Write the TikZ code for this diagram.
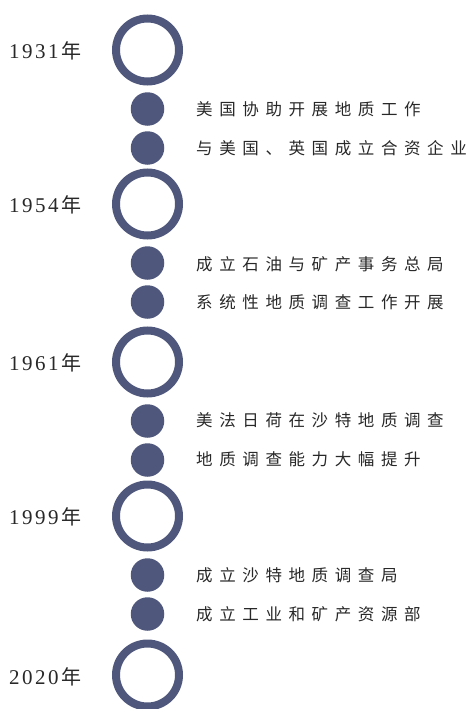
\documentclass[tikz,border=0pt]{standalone}
\usepackage{fontspec}
\setmainfont{Liberation Serif}
\newfontfamily\cjk{Noto Sans CJK SC}
\definecolor{ringc}{RGB}{79,88,124}
\definecolor{txtc}{RGB}{40,40,40}
\newlength\pitchw
\def\pitchloop#1{\ifx#1\relax\else\makebox[\pitchw][l]{#1}\expandafter\pitchloop\fi}
\newcommand\pitched[2]{\setlength\pitchw{#1}\pitchloop#2\relax}
\begin{document}
\begin{tikzpicture}[x=1pt,y=-1pt,
  ring/.style={circle,draw=ringc,line width=8pt,minimum size=63pt,inner sep=0pt},
  dot/.style={circle,fill=ringc,minimum size=33.5pt,inner sep=0pt},
  year/.style={anchor=west,inner sep=0pt,text=txtc,font=\fontsize{21}{21}\selectfont},
  item/.style={anchor=west,inner sep=0pt,text=txtc,font=\cjk\fontsize{16.5}{16.5}\selectfont}]
\useasboundingbox (0,0) rectangle (468,709);
% rings
\node[ring] (r1) at (147.5,50) {};
\node[ring] (r2) at (147.5,204) {};
\node[ring] (r3) at (147.5,362) {};
\node[ring] (r4) at (147.5,516) {};
\node[ring] (r5) at (147.5,675) {};
% dots
\node[dot] (d1) at (147.5,109) {};
\node[dot] (d2) at (147.5,148) {};
\node[dot] (d3) at (147.5,263) {};
\node[dot] (d4) at (147.5,302) {};
\node[dot] (d5) at (147.5,421) {};
\node[dot] (d6) at (147.5,460) {};
\node[dot] (d7) at (147.5,575) {};
\node[dot] (d8) at (147.5,614) {};
% years
\node[year] (y1) at (9,51) {\pitched{13pt}{1931}{\cjk\fontsize{20}{20}\selectfont 年}};
\node[year] (y2) at (9,205) {\pitched{13pt}{1954}{\cjk\fontsize{20}{20}\selectfont 年}};
\node[year] (y3) at (9,363) {\pitched{13pt}{1961}{\cjk\fontsize{20}{20}\selectfont 年}};
\node[year] (y4) at (9,517) {\pitched{13pt}{1999}{\cjk\fontsize{20}{20}\selectfont 年}};
\node[year] (y5) at (9,677) {\pitched{13pt}{2020}{\cjk\fontsize{20}{20}\selectfont 年}};
% items
\node[item] (t1) at (196,109) {\pitched{23.1pt}{美国协助开展地质工作}};
\node[item] (t2) at (196,148) {\pitched{23.1pt}{与美国、英国成立合资企业}};
\node[item] (t3) at (196,264) {\pitched{23.1pt}{成立石油与矿产事务总局}};
\node[item] (t4) at (196,302) {\pitched{23.1pt}{系统性地质调查工作开展}};
\node[item] (t5) at (196,420) {\pitched{23.1pt}{美法日荷在沙特地质调查}};
\node[item] (t6) at (196,459) {\pitched{23.1pt}{地质调查能力大幅提升}};
\node[item] (t7) at (196,575) {\pitched{23.1pt}{成立沙特地质调查局}};
\node[item] (t8) at (196,614) {\pitched{23.1pt}{成立工业和矿产资源部}};
\end{tikzpicture}
\end{document}
